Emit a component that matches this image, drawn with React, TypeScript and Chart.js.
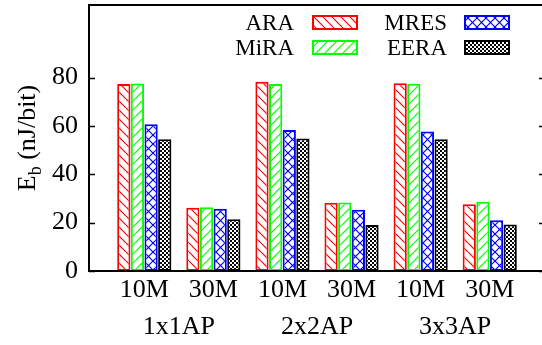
import { useEffect, useRef } from "react";
import { Chart, registerables } from "chart.js";

Chart.register(...registerables);

// Scenario labels along the x axis and the AP-grid groups beneath them
const subCategories = ["10M", "30M", "10M", "30M", "10M", "30M"];
const groupLabels = ["1x1AP", "2x2AP", "3x3AP"];
const groupCenters = [0.5, 2.5, 4.5];

// Energy per bit (nJ/bit) for each scheme
const seriesNames = ["ARA", "MiRA", "MRES", "EERA"];
const araValues = [77.3, 26.2, 78.3, 28.2, 77.6, 27.6];
const miraValues = [77.5, 26.4, 77.3, 28.3, 77.4, 28.6];
const mresValues = [60.7, 25.7, 58.3, 25.3, 57.7, 21.0];
const eeraValues = [54.5, 21.4, 54.8, 19.0, 54.5, 19.2];

const yTicks = [0, 20, 40, 60, 80];

const FONT = "Liberation Serif";
const W = 560;
const H = 345;

type Hatch = "back" | "fwd" | "cross" | "check";

function makePattern(kind: Hatch, color: string): CanvasPattern | string {
  const s = kind === "check" ? 4 : 9;
  const c = document.createElement("canvas");
  c.width = s;
  c.height = s;
  const g = c.getContext("2d");
  if (!g) return color;
  g.fillStyle = "#fff";
  g.fillRect(0, 0, s, s);
  g.strokeStyle = color;
  g.lineWidth = 1.2;
  if (kind === "back" || kind === "cross") {
    for (const k of [-s, 0, s]) {
      g.beginPath();
      g.moveTo(k, 0);
      g.lineTo(k + s, s);
      g.stroke();
    }
  }
  if (kind === "fwd" || kind === "cross") {
    for (const k of [-s, 0, s]) {
      g.beginPath();
      g.moveTo(k, s);
      g.lineTo(k + s, 0);
      g.stroke();
    }
  }
  if (kind === "check") {
    g.fillStyle = color;
    g.fillRect(0, 0, s, s);
    g.fillStyle = "#fff";
    g.fillRect(0, 0, 2, 2);
    g.fillRect(2, 2, 2, 2);
  }
  return g.createPattern(c, "repeat") ?? color;
}

const seriesStyles: { color: string; hatch: Hatch }[] = [
  { color: "#ff0000", hatch: "back" },
  { color: "#00ff00", hatch: "fwd" },
  { color: "#0000ff", hatch: "cross" },
  { color: "#000000", hatch: "check" },
];

// drop the label-overflow padding so the plot box keeps its fixed size
const noPad = (scale: any) => {
  scale.paddingTop = 0;
  scale.paddingBottom = 0;
  scale.paddingLeft = 0;
  scale.paddingRight = 0;
};

// Frame, inward tick marks, y-axis title with subscript and the two-column key
const decorPlugin = {
  id: "decor",
  afterDatasetsDraw(chart: any) {
    const { ctx, chartArea } = chart;
    const { left, right, top, bottom } = chartArea;
    const y = chart.scales.y;
    ctx.save();
    ctx.strokeStyle = "#000";
    ctx.lineWidth = 1.5;
    for (const t of yTicks) {
      const py = Math.round(y.getPixelForValue(t)) + 0.5;
      ctx.beginPath();
      ctx.moveTo(left, py);
      ctx.lineTo(left + 6, py);
      ctx.moveTo(right - 6, py);
      ctx.lineTo(right, py);
      ctx.stroke();
    }
    ctx.lineWidth = 2;
    ctx.strokeRect(left, top, right - left, bottom - top);
    ctx.restore();
  },
  afterDraw(chart: any) {
    const { ctx, chartArea } = chart;
    const ds = chart.data.datasets;
    ctx.save();

    // key
    ctx.font = `23px ${FONT}`;
    ctx.textAlign = "right";
    ctx.textBaseline = "alphabetic";
    const cols = [
      { textRight: 294, swLeft: 313 },
      { textRight: 447, swLeft: 465 },
    ];
    const rows = [30, 55];
    ds.forEach((d: any, i: number) => {
      const col = cols[Math.floor(i / 2)];
      const base = rows[i % 2];
      ctx.fillStyle = "#000";
      ctx.fillText(d.label, col.textRight, base);
      ctx.fillStyle = d.backgroundColor;
      ctx.fillRect(col.swLeft, base - 14, 44, 13);
      ctx.strokeStyle = d.borderColor;
      ctx.lineWidth = 2;
      ctx.strokeRect(col.swLeft, base - 14, 44, 13);
    });

    // y title: E_b (nJ/bit)
    const cy = (chartArea.top + chartArea.bottom) / 2;
    ctx.translate(35, cy);
    ctx.rotate(-Math.PI / 2);
    ctx.textAlign = "left";
    ctx.fillStyle = "#000";
    const big = `26px ${FONT}`;
    const small = `18px ${FONT}`;
    ctx.font = big;
    const wE = ctx.measureText("E").width;
    const wRest = ctx.measureText(" (nJ/bit)").width;
    ctx.font = small;
    const wb = ctx.measureText("b").width;
    let x = -(wE + wb + wRest) / 2;
    ctx.font = big;
    ctx.fillText("E", x, 0);
    x += wE;
    ctx.font = small;
    ctx.fillText("b", x, 6);
    x += wb;
    ctx.font = big;
    ctx.fillText(" (nJ/bit)", x, 0);
    ctx.restore();
  },
};

export default function App() {
  const ref = useRef<HTMLCanvasElement | null>(null);

  useEffect(() => {
    if (!ref.current) return;
    Chart.defaults.font.family = FONT;
    Chart.defaults.color = "#000";

    const valueSets = [araValues, miraValues, mresValues, eeraValues];
    const datasets = seriesNames.map((name, s) => ({
      label: name,
      data: valueSets[s].map((v, i) => ({ x: i, y: v })),
      backgroundColor: makePattern(seriesStyles[s].hatch, seriesStyles[s].color) as any,
      borderColor: seriesStyles[s].color,
      borderWidth: 2,
      borderSkipped: false as const,
      categoryPercentage: 0.79,
      barPercentage: 0.97,
    }));

    const tickFont = { family: FONT, size: 26, lineHeight: 1 };

    const chart = new Chart(ref.current, {
      type: "bar",
      data: { datasets },
      options: {
        animation: false,
        responsive: false,
        devicePixelRatio: 1,
        layout: { padding: { top: 5, right: 15, left: 0, bottom: 0 } },
        plugins: {
          legend: { display: false },
          tooltip: { enabled: false },
        },
        scales: {
          x: {
            type: "linear",
            position: "bottom",
            offset: false,
            weight: 0,
            min: -0.8,
            max: 5.8,
            grid: { display: false, drawTicks: false, offset: false },
            border: { display: false },
            afterBuildTicks: (scale: any) => {
              scale.ticks = subCategories.map((_, i) => ({ value: i }));
            },
            afterFit: (scale: any) => {
              scale.height = 40;
              noPad(scale);
            },
            ticks: {
              autoSkip: false,
              maxRotation: 0,
              padding: 6,
              font: tickFont,
              callback: (v: any) => subCategories[Number(v)] ?? "",
            },
          },
          group: {
            type: "linear",
            position: "bottom",
            offset: false,
            weight: 1,
            min: -0.8,
            max: 5.8,
            grid: { display: false, drawTicks: false, offset: false },
            border: { display: false },
            afterBuildTicks: (scale: any) => {
              scale.ticks = groupCenters.map((c) => ({ value: c }));
            },
            afterFit: (scale: any) => {
              scale.height = 34;
              noPad(scale);
            },
            ticks: {
              autoSkip: false,
              maxRotation: 0,
              padding: 3,
              font: tickFont,
              callback: (v: any) => groupLabels[groupCenters.indexOf(Number(v))] ?? "",
            },
          },
          y: {
            min: 0,
            max: 110,
            grid: { display: false, drawTicks: false },
            border: { display: false },
            afterBuildTicks: (scale: any) => {
              scale.ticks = yTicks.map((t) => ({ value: t }));
            },
            afterFit: (scale: any) => {
              scale.width = 89;
              noPad(scale);
            },
            ticks: {
              padding: 11,
              font: tickFont,
            },
          },
        },
      },
      plugins: [decorPlugin],
    });

    return () => chart.destroy();
  }, []);

  return (
    <div style={{ position: "fixed", left: 0, top: 0, width: W, height: H, background: "#fff" }}>
      <canvas ref={ref} width={W} height={H} />
    </div>
  );
}
